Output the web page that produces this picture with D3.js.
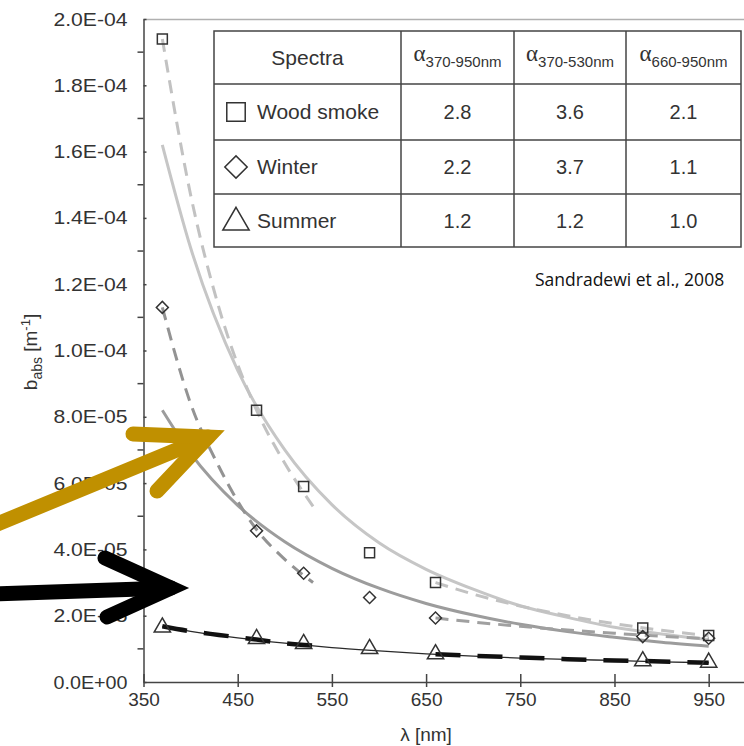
<!doctype html>
<html>
  <head>
    <script src="https://d3js.org/d3.v7.min.js" charset="utf-8"></script>
    <style>
      body { margin: 0; background: #fff; }
      text { font-family: "Liberation Sans", Arial, sans-serif; }
    </style>
  </head>
  <body>
    <script>

var wl = [370, 470, 520, 590, 660, 880, 950];
var woodSmoke = [1.94e-4, 8.2e-5, 5.9e-5, 3.9e-5, 3.0e-5, 1.63e-5, 1.4e-5];
var winter = [1.13e-4, 4.56e-5, 3.28e-5, 2.55e-5, 1.93e-5, 1.37e-5, 1.32e-5];
var summer = [1.65e-5, 1.3e-5, 1.15e-5, 1.0e-5, 8.4e-6, 6.3e-6, 5.9e-6];

// fitted curves 370-950 nm (solid)
var fitWl = [370, 400, 450, 500, 550, 600, 650, 700, 750, 800, 850, 900, 950];
var woodFit = [1.62e-4, 1.31e-4, 9.4e-5, 7.0e-5, 5.35e-5, 4.2e-5, 3.4e-5, 2.8e-5, 2.3e-5, 1.95e-5, 1.65e-5, 1.45e-5, 1.28e-5];
var winterFit = [8.2e-5, 6.9e-5, 5.33e-5, 4.23e-5, 3.43e-5, 2.83e-5, 2.37e-5, 2.02e-5, 1.74e-5, 1.52e-5, 1.35e-5, 1.2e-5, 1.08e-5];
var summerFit = [1.68e-5, 1.53e-5, 1.33e-5, 1.17e-5, 1.04e-5, 9.4e-6, 8.5e-6, 7.8e-6, 7.2e-6, 6.8e-6, 6.5e-6, 6.1e-6, 5.8e-6];

// piecewise fits (dashed): 370-530 nm and 660-950 nm
var uvWl = [370, 400, 430, 470, 500, 530];
var woodUv = [1.94e-4, 1.47e-4, 1.13e-4, 8.2e-5, 6.6e-5, 5.3e-5];
var winterUv = [1.13e-4, 8.4e-5, 6.5e-5, 4.6e-5, 3.7e-5, 3.0e-5];
var summerUv = [1.68e-5, 1.53e-5, 1.42e-5, 1.28e-5, 1.17e-5, 1.1e-5];
var irWl = [660, 700, 750, 800, 850, 900, 950];
var woodIr = [3.0e-5, 2.65e-5, 2.29e-5, 2.0e-5, 1.76e-5, 1.56e-5, 1.4e-5];
var winterIr = [1.93e-5, 1.81e-5, 1.68e-5, 1.57e-5, 1.47e-5, 1.38e-5, 1.31e-5];
var summerIr = [8.4e-6, 7.9e-6, 7.4e-6, 6.9e-6, 6.5e-6, 6.2e-6, 5.8e-6];

// axes ticks
var xTicks = [350, 450, 550, 650, 750, 850, 950];
var yTicks = [0, 2e-5, 4e-5, 6e-5, 8e-5, 1e-4, 1.2e-4, 1.4e-4, 1.6e-4, 1.8e-4, 2e-4];
var yTickLabels = ["0.0E+00", "2.0E-05", "4.0E-05", "6.0E-05", "8.0E-05", "1.0E-04",
                   "1.2E-04", "1.4E-04", "1.6E-04", "1.8E-04", "2.0E-04"];
var yMinor = [1e-5, 3e-5, 5e-5, 7e-5, 9e-5, 1.1e-4, 1.3e-4, 1.5e-4, 1.7e-4, 1.9e-4];

// table content
var tableHead = ["370-950nm", "370-530nm", "660-950nm"];
var spectra = ["Wood smoke", "Winter", "Summer"];
var alphaVals = [["2.8", "3.6", "2.1"], ["2.2", "3.7", "1.1"], ["1.2", "1.2", "1.0"]];

var svg = d3.select("body")
  .append("svg")
    .attr("width", 744)
    .attr("height", 746);

var x = d3.scaleLinear().domain([350, 987.5]).range([143.5, 744]);
var y = d3.scaleLinear().domain([0, 2e-4]).range([682, 19]);

var axisColor = "#444";
var labelColor = "#333";

// top frame line
svg.append("line")
  .attr("x1", 143.5).attr("x2", 744)
  .attr("y1", 19.5).attr("y2", 19.5)
  .attr("stroke", "#b0b0b0").attr("stroke-width", 1.5);

// x axis
var xAxis = svg.append("g")
  .attr("transform", "translate(0,682)")
  .call(d3.axisBottom(x).tickValues(xTicks).tickSize(5).tickSizeOuter(0).tickPadding(6));
xAxis.select(".domain").attr("stroke", axisColor).attr("stroke-width", 1.5);
xAxis.selectAll(".tick line").attr("stroke", axisColor).attr("stroke-width", 1.5).attr("y1", -8);
xAxis.selectAll(".tick text").attr("fill", labelColor).style("font-size", "19px")
  .style("font-family", "Liberation Sans, Arial, sans-serif");

// y axis
var yAxis = svg.append("g")
  .attr("transform", "translate(143.5,0)")
  .call(d3.axisLeft(y).tickValues(yTicks).tickSize(8).tickSizeOuter(0).tickPadding(8)
    .tickFormat(function(d, i) { return yTickLabels[i]; }));
yAxis.select(".domain").attr("stroke", axisColor).attr("stroke-width", 1.5);
yAxis.selectAll(".tick line").attr("stroke", axisColor).attr("stroke-width", 1.5).attr("x2", 3);
yAxis.selectAll(".tick text").attr("fill", labelColor).style("font-size", "19px")
  .style("font-family", "Liberation Sans, Arial, sans-serif")
  .attr("textLength", 74).attr("lengthAdjust", "spacingAndGlyphs");

yAxis.selectAll(".minor")
  .data(yMinor)
  .enter().append("line")
    .attr("x1", -6).attr("x2", 0)
    .attr("y1", function(d) { return y(d); })
    .attr("y2", function(d) { return y(d); })
    .attr("stroke", axisColor).attr("stroke-width", 1.5);

// axis titles
svg.append("text")
  .attr("x", 426).attr("y", 741)
  .attr("text-anchor", "middle")
  .attr("fill", labelColor)
  .style("font-size", "19px")
  .text("λ [nm]");

var yt = svg.append("text")
  .attr("transform", "translate(37,352) rotate(-90)")
  .attr("text-anchor", "middle")
  .attr("fill", labelColor)
  .style("font-size", "19px");
yt.append("tspan").text("b");
yt.append("tspan").attr("dy", 5).style("font-size", "14px").text("abs");
yt.append("tspan").attr("dy", -5).text(" [m");
yt.append("tspan").attr("dy", -7).style("font-size", "13px").text("-1");
yt.append("tspan").attr("dy", 7).text("]");

// curves
var line = d3.line()
  .x(function(d) { return x(d[0]); })
  .y(function(d) { return y(d[1]); })
  .curve(d3.curveMonotoneX);

function zip(a, b) { return a.map(function(v, i) { return [v, b[i]]; }); }

var curves = [
  { pts: zip(fitWl, summerFit), color: "#2a2a2a", width: 1.3, dash: null },
  { pts: zip(uvWl, summerUv), color: "#111", width: 4.5, dash: "25,17" },
  { pts: zip(irWl, summerIr), color: "#111", width: 4.5, dash: "25,17" },
  { pts: zip(fitWl, woodFit), color: "#c6c6c6", width: 3, dash: null },
  { pts: zip(uvWl, woodUv), color: "#c2c2c2", width: 3, dash: "13,8" },
  { pts: zip(irWl, woodIr), color: "#c2c2c2", width: 3, dash: "13,8" },
  { pts: zip(fitWl, winterFit), color: "#9c9c9c", width: 3, dash: null },
  { pts: zip(uvWl, winterUv), color: "#939393", width: 3, dash: "13,8" },
  { pts: zip(irWl, winterIr), color: "#a0a0a0", width: 3, dash: "13,8" }
];

svg.selectAll(".curve")
  .data(curves)
  .enter().append("path")
    .attr("class", "curve")
    .attr("d", function(d) { return line(d.pts); })
    .attr("fill", "none")
    .attr("stroke", function(d) { return d.color; })
    .attr("stroke-width", function(d) { return d.width; })
    .attr("stroke-dasharray", function(d) { return d.dash; });

// markers (diamond = square turned 45 degrees)
var markStroke = "#333";
var sym = {
  square: { gen: d3.symbol().type(d3.symbolSquare).size(100), rot: 0 },
  diamond: { gen: d3.symbol().type(d3.symbolSquare).size(72), rot: 45 },
  triangle: { gen: d3.symbol().type(d3.symbolTriangle).size(115), rot: 0 }
};

function drawMarks(vals, shape) {
  var s = sym[shape];
  svg.append("g").selectAll("path")
    .data(zip(wl, vals))
    .enter().append("path")
      .attr("d", s.gen())
      .attr("transform", function(d) {
        return "translate(" + x(d[0]) + "," + y(d[1]) + ") rotate(" + s.rot + ")";
      })
      .attr("fill", "none")
      .attr("stroke", markStroke)
      .attr("stroke-width", 1.5);
}
drawMarks(woodSmoke, "square");
drawMarks(winter, "diamond");
drawMarks(summer, "triangle");

// table
var colX = [214, 401, 514, 626, 741];
var rowY = [31, 84, 140, 194, 247];
var tbl = svg.append("g");
tbl.append("rect")
  .attr("x", colX[0]).attr("y", rowY[0])
  .attr("width", colX[4] - colX[0]).attr("height", rowY[4] - rowY[0])
  .attr("fill", "#fff").attr("stroke", "#444").attr("stroke-width", 1.5);
colX.slice(1, 4).forEach(function(cx) {
  tbl.append("line").attr("x1", cx).attr("x2", cx).attr("y1", rowY[0]).attr("y2", rowY[4])
    .attr("stroke", "#444").attr("stroke-width", 1.5);
});
rowY.slice(1, 4).forEach(function(ry) {
  tbl.append("line").attr("x1", colX[0]).attr("x2", colX[4]).attr("y1", ry).attr("y2", ry)
    .attr("stroke", "#444").attr("stroke-width", 1.5);
});

var tColor = "#333";
tbl.append("text")
  .attr("x", (colX[0] + colX[1]) / 2).attr("y", (rowY[0] + rowY[1]) / 2 + 7)
  .attr("text-anchor", "middle").attr("fill", tColor).style("font-size", "21px")
  .text("Spectra");

tableHead.forEach(function(h, i) {
  var t = tbl.append("text")
    .attr("x", (colX[i + 1] + colX[i + 2]) / 2).attr("y", (rowY[0] + rowY[1]) / 2 + 3)
    .attr("text-anchor", "middle").attr("fill", tColor);
  t.append("tspan").style("font-family", "Liberation Serif, serif").style("font-size", "23px").text("α");
  t.append("tspan").attr("dy", 6).style("font-size", "15px").text(h);
});

var legendSym = [
  { gen: d3.symbol().type(d3.symbolSquare).size(340), rot: 0, dy: 0 },
  { gen: d3.symbol().type(d3.symbolSquare).size(250), rot: 45, dy: 0 },
  { gen: d3.symbol().type(d3.symbolTriangle).size(300), rot: 0, dy: 2 }
];
spectra.forEach(function(s, i) {
  var cy = (rowY[i + 1] + rowY[i + 2]) / 2;
  var ls = legendSym[i];
  tbl.append("path")
    .attr("d", ls.gen())
    .attr("transform", "translate(236," + (cy + ls.dy) + ") rotate(" + ls.rot + ")")
    .attr("fill", "none").attr("stroke", tColor).attr("stroke-width", 1.5);
  tbl.append("text")
    .attr("x", 257).attr("y", cy + 7)
    .attr("fill", tColor).style("font-size", "21px")
    .text(s);
  alphaVals[i].forEach(function(v, j) {
    tbl.append("text")
      .attr("x", (colX[j + 1] + colX[j + 2]) / 2).attr("y", cy + 7)
      .attr("text-anchor", "middle").attr("fill", tColor).style("font-size", "20px")
      .text(v);
  });
});

svg.append("text")
  .attr("x", 535).attr("y", 286)
  .attr("fill", "#111")
  .style("font-family", "Open Sans, sans-serif")
  .style("font-size", "17.5px")
  .text("Sandradewi et al., 2008");

// annotation arrows
var arrows = [
  { color: "#c09000", tail: [-10, 527], tip: [208, 437], w1: [133, 434], w2: [157, 491] },
  { color: "#000", tail: [-10, 594], tip: [171, 588], w1: [105, 558], w2: [107, 617] }
];
arrows.forEach(function(a) {
  svg.append("path")
    .attr("d", "M" + a.tail + "L" + a.tip)
    .attr("fill", "none").attr("stroke", a.color).attr("stroke-width", 15)
    .attr("stroke-linecap", "round");
  svg.append("path")
    .attr("d", "M" + a.w1 + "L" + a.tip + "L" + a.w2)
    .attr("fill", "none").attr("stroke", a.color).attr("stroke-width", 15)
    .attr("stroke-linecap", "round").attr("stroke-linejoin", "miter").attr("stroke-miterlimit", 10);
});

    </script>
  </body>
</html>
